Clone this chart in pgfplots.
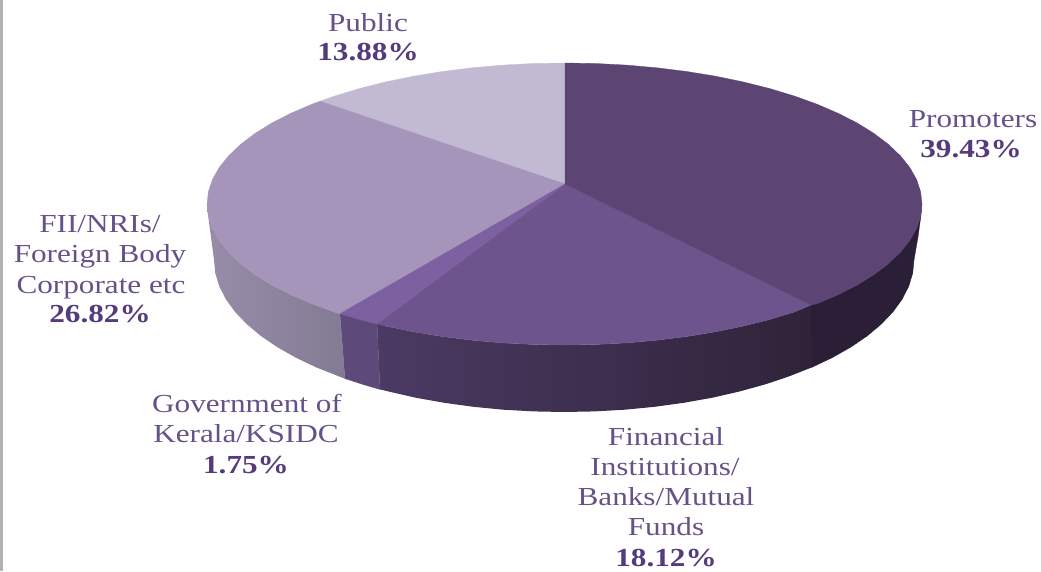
\documentclass[border=0pt]{standalone}
\usepackage{fontspec}
\usepackage{pgfplots}
\pgfplotsset{compat=1.18}
\setmainfont[FakeStretch=1.2]{Liberation Serif}

% label text and slice colours
\definecolor{lblname}{HTML}{665288}
\definecolor{lblpct}{HTML}{553B7C}
\definecolor{topProm}{HTML}{5C4573}
\definecolor{topFin}{HTML}{6D548D}
\definecolor{topGov}{HTML}{7C60A0}
\definecolor{topFII}{HTML}{A595BA}
\definecolor{topPub}{HTML}{C1BAD2}
\definecolor{sideProm}{HTML}{2A1F36}
\definecolor{sideFinL}{HTML}{4B3A63}
\definecolor{sideFinR}{HTML}{2F2339}
\definecolor{sideGov}{HTML}{5E4A7A}
\definecolor{sideFIIL}{HTML}{978DAA}
\definecolor{sideFIIR}{HTML}{837A93}

\newcommand{\nm}[3]{\node[anchor=base,text=lblname,inner sep=0pt] at (axis cs:#1,#2) {\fontsize{26}{30}\selectfont #3};}
\newcommand{\pc}[3]{\node[anchor=base,text=lblpct,inner sep=0pt] at (axis cs:#1,#2) {\fontsize{26}{30}\selectfont\bfseries #3};}

\begin{document}
\begin{tikzpicture}
\useasboundingbox (0,0) rectangle (1041pt,571pt);
\begin{axis}[
  at={(0,0)}, anchor=south west,
  scale only axis, width=1041pt, height=571pt,
  xmin=0, xmax=1041, ymin=0, ymax=571, y dir=reverse,
  hide axis, clip=false, no markers,
]
% page edge strip
\addplot[fill=black!30, draw=none] coordinates {(0,0) (3,0) (3,571) (0,571)} -- cycle;

% side wall, Promoters
\addplot[fill=sideProm, draw=sideProm, line width=0.3pt] coordinates {
 (922,204) (920.6,216.3) (916.6,228.5) (909.8,240.5) (900.4,252.2) (888.5,263.6) (874.1,274.5)
 (857.4,284.9) (838.4,294.6) (811,305)
 (811.5,367.5) (832.1,357.7) (850.7,347.2) (867.1,336) (881.2,324.2) (892.9,312) (902.1,299.3)
 (908.7,286.4) (912.7,273.3) (914,260) (918,237) (921,215)} -- cycle;
% side wall, Financial Institutions
\addplot[left color=sideFinL, right color=sideFinR, draw=none] coordinates {
 (811,305) (794.3,312) (769.6,319.5) (743.2,326.1) (715.6,331.8) (686.8,336.5) (657,340.2)
 (626.6,342.9) (595.7,344.5) (564.5,345) (533.3,344.5) (502.4,342.9) (472,340.2) (442.2,336.5)
 (413.4,331.8) (385.8,326.1) (377,322)
 (380,389.4) (389,391.6) (416.1,397.8) (444.3,402.8) (473.4,406.8) (503.2,409.7) (533.5,411.4)
 (564,412) (594.5,411.4) (624.8,409.7) (654.6,406.8) (683.7,402.8) (711.9,397.8) (739,391.6)
 (764.8,384.5) (789,376.4) (811.5,367.5)} -- cycle;
% side wall, Government of Kerala
\addplot[fill=sideGov, draw=sideGov, line width=0.3pt] coordinates {
 (340,314) (377,322) (380,389.4) (363.2,384.5) (345,378.6)} -- cycle;
% side wall, FII / NRIs
\addplot[left color=sideFIIL, right color=sideFIIR, draw=none] coordinates {
 (340,314) (311.7,303.7) (290.6,294.6) (271.6,284.9) (254.9,274.5) (240.5,263.6) (228.6,252.2)
 (219.2,240.5) (212.4,228.5) (208.4,216.3) (207,204)
 (208,215) (211,237) (214,260) (215.3,273.3) (219.3,286.4) (225.9,299.3) (235.1,312) (246.8,324.2)
 (260.9,336) (277.3,347.2) (295.9,357.7) (316.5,367.5) (339,376.4) (345,378.6)} -- cycle;

% top face, Public
\addplot[fill=topPub, draw=topPub, line width=0.3pt] coordinates {
 (565,184) (320,101.2) (334.7,96) (359.4,88.5) (385.8,81.9) (413.4,76.2) (442.2,71.5)
 (472,67.8) (502.4,65.1) (533.3,63.5) (565,63)} -- cycle;
% top face, FII / NRIs
\addplot[fill=topFII, draw=topFII, line width=0.3pt] coordinates {
 (565,184) (340,313.7) (334.7,312) (311.7,303.7) (290.6,294.6) (271.6,284.9) (254.9,274.5)
 (240.5,263.6) (228.6,252.2) (219.2,240.5) (212.4,228.5) (208.4,216.3) (207,204) (208.4,191.7)
 (212.4,179.5) (219.2,167.5) (228.6,155.8) (240.5,144.4) (254.9,133.5) (271.6,123.1)
 (290.6,113.4) (311.7,104.3) (320,101.2)} -- cycle;
% top face, Financial Institutions
\addplot[fill=topFin, draw=topFin, line width=0.3pt] coordinates {
 (565,184) (811,305) (794.3,312) (769.6,319.5) (743.2,326.1) (715.6,331.8) (686.8,336.5)
 (657,340.2) (626.6,342.9) (595.7,344.5) (564.5,345) (533.3,344.5) (502.4,342.9) (472,340.2)
 (442.2,336.5) (413.4,331.8) (385.8,326.1) (377,324)} -- cycle;
% top face, Government of Kerala
\addplot[fill=topGov, draw=topGov, line width=0.3pt] coordinates {
 (565,184) (377,324) (359.4,319.5) (340,313.7)} -- cycle;
% top face, Promoters
\addplot[fill=topProm, draw=topProm, line width=0.3pt] coordinates {
 (565,184) (565,63) (595.7,63.5) (626.6,65.1) (657,67.8) (686.8,71.5) (715.6,76.2) (743.2,81.9)
 (769.6,88.5) (794.3,96) (817.3,104.3) (838.4,113.4) (857.4,123.1) (874.1,133.5) (888.5,144.4)
 (900.4,155.8) (909.8,167.5) (916.6,179.5) (920.6,191.7) (922,204) (920.6,216.3) (916.6,228.5)
 (909.8,240.5) (900.4,252.2) (888.5,263.6) (874.1,274.5) (857.4,284.9) (838.4,294.6) (817.3,303.7)
 (811,305)} -- cycle;

% slice labels
\nm{368}{31}{Public}
\pc{368}{60}{13.88\%}
\nm{973}{127}{Promoters}
\pc{971}{157}{39.43\%}
\nm{100}{232}{FII/NRIs/}
\nm{100}{262}{Foreign Body}
\nm{101}{293}{Corporate etc}
\pc{100}{322}{26.82\%}
\nm{247}{412}{Government of}
\nm{246}{442}{Kerala/KSIDC}
\pc{246}{473}{1.75\%}
\nm{666}{445}{Financial}
\nm{665}{475}{Institutions/}
\nm{666}{505}{Banks/Mutual}
\nm{666}{535}{Funds}
\pc{666}{566}{18.12\%}
\end{axis}
\end{tikzpicture}
\end{document}
